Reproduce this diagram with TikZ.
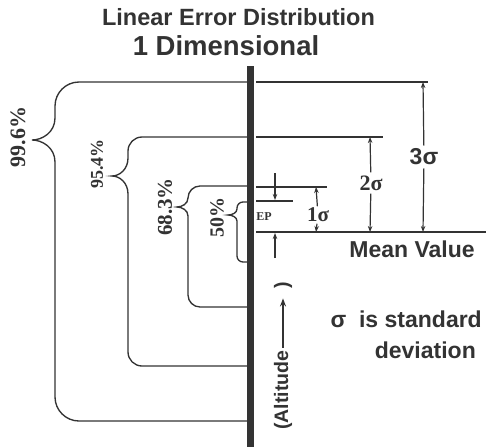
\documentclass[tikz,border=0pt]{standalone}
\usepackage{fontspec}
\setmainfont{Liberation Serif}[BoldFont={Liberation Serif Bold}]
\setsansfont{Liberation Sans}[BoldFont={Liberation Sans Bold}]
\usetikzlibrary{arrows.meta,positioning}
\definecolor{ink}{gray}{0.2}

\begin{document}
\begin{tikzpicture}[x=1pt, y=-1pt,
  ln/.style={draw=ink, line width=1.35pt},
  arr/.style={-{Stealth[length=6pt, width=4.5pt]}, draw=ink, line width=1.2pt},
  hd/.style={text=ink, inner sep=0pt},
  pct/.style={text=ink, rotate=90, inner sep=0pt},
  sg/.style={text=ink, inner sep=3pt}]
\fill[white] (0,0) rectangle (486,447);
\useasboundingbox (0,0) rectangle (486,447);

% title
\node[hd, font={\sffamily\bfseries\fontsize{23.5}{28}\selectfont}, anchor=base] (title) at (238.5,25) {Linear Error Distribution};
\node[hd, font={\sffamily\bfseries\fontsize{27.5}{32}\selectfont}, anchor=base] (sub) at (226,55) {1 Dimensional};

% brackets left of the bar
\foreach \xv/\yt/\yb/\yp/\xp/\rc/\hc in {55/82/421/140/32/24/22, 128/137/366/176/112/14/18, 188/186/307/207/177/12/9, 237/202/262/215/228/6/6}{
  \draw[ln] (247,\yt) -- (\xv+\rc,\yt)
    .. controls (\xv+0.45*\rc,\yt) and (\xv,\yt+0.45*\rc) .. (\xv,\yt+\rc)
    -- (\xv,\yp-\hc)
    .. controls (\xv,\yp-0.35*\hc) and (0.55*\xp+0.45*\xv,\yp) .. (\xp,\yp)
    .. controls (0.55*\xp+0.45*\xv,\yp) and (\xv,\yp+0.35*\hc) .. (\xv,\yp+\hc)
    -- (\xv,\yb-\rc)
    .. controls (\xv,\yb-0.45*\rc) and (\xv+0.45*\rc,\yb) .. (\xv+\rc,\yb)
    -- (247,\yb);
}
\node[pct, font={\bfseries\fontsize{22}{24}\selectfont}] (p996) at (18,137) {99.6\%};
\node[pct, font={\bfseries\fontsize{18}{20}\selectfont}] (p954) at (97,164) {95.4\%};
\node[pct, font={\bfseries\fontsize{21}{24}\selectfont}] (p683) at (165,207) {68.3\%};
\node[pct, font={\bfseries\fontsize{20}{24}\selectfont}] (p50) at (217,217) {50\%};

% levels right of the bar
\draw[ln] (256,82) -- (428,82);
\draw[ln] (256,137) -- (383,137);
\draw[ln] (256,187) -- (327,187);
\draw[ln] (256,201) -- (293,201);
\draw[ln, line width=1.9pt] (256,232) -- (486,232);

% the bar
\fill[ink] (247,66) rectangle (254,447);

% sigma arrows
\coordinate (top3) at (423,82);
\coordinate (top2) at (370,137);
\coordinate (top1) at (316,187);
\coordinate (mean3) at (423,232);
\coordinate (mean2) at (370,232);
\coordinate (mean1) at (316,232);
\node[sg, font={\sffamily\bfseries\fontsize{23}{26}\selectfont}] (s3) at (424,157) {3σ};
\node[sg, font={\bfseries\fontsize{22}{24}\selectfont}] (s2) at (371,183) {2σ};
\node[sg, font={\bfseries\fontsize{21}{24}\selectfont}, inner sep=1.5pt] (s1) at (318,215) {1σ};
\draw[arr] (s3) -- (top3);
\draw[arr] (s3) -- (mean3);
\draw[arr] (s2) -- (top2);
\draw[arr] (s2) -- (mean2);
\draw[arr] (s1) -- (top1);
\draw[arr] (s1) -- (mean1);

% EP
\node[hd, font={\bfseries\fontsize{12}{14}\selectfont}] (ep) at (264,217) {EP};
\coordinate (epa) at (275,173);
\coordinate (epb) at (275,200);
\coordinate (epc) at (275,258);
\coordinate (epd) at (275,233);
\draw[arr] (epa) -- (epb);
\draw[arr] (epc) -- (epd);

% texts
\node[hd, font={\sffamily\bfseries\fontsize{23}{28}\selectfont}, anchor=base] (mean) at (412,257) {Mean Value};
\node[hd, font={\sffamily\bfseries\fontsize{23}{28}\selectfont}, anchor=base east] (std) at (482,327) {σ\ \ is standard};
\node[hd, font={\sffamily\bfseries\fontsize{23}{28}\selectfont}, anchor=base east] (dev) at (476,358) {deviation};
\node[hd, font={\sffamily\bfseries\fontsize{19.5}{22}\selectfont}, rotate=90, anchor=west] (alt) at (283,430) {(Altitude};
\node[hd, font={\sffamily\bfseries\fontsize{19.5}{22}\selectfont}, rotate=90] (altr) at (283,285) {)};
\draw[-{Stealth[length=8pt, width=6pt]}, draw=ink, line width=1.6pt, shorten <=3pt, shorten >=10pt] (alt.east) -- (altr.west);
\end{tikzpicture}
\end{document}
